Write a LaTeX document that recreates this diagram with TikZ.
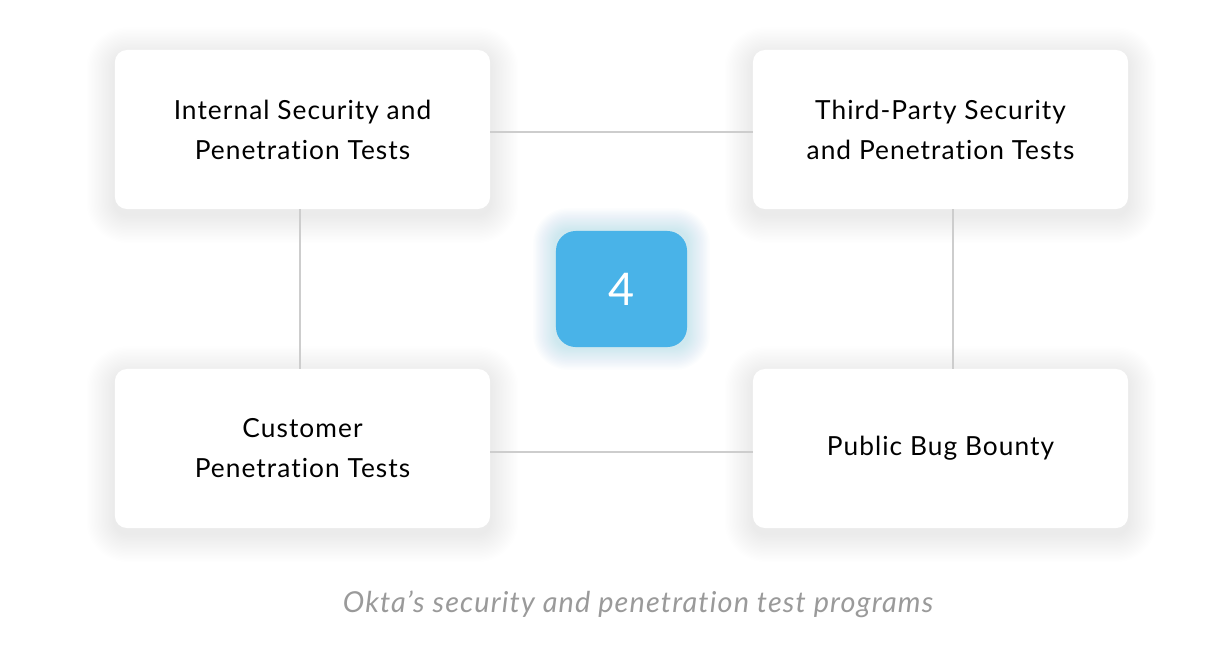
\documentclass[tikz,border=0pt]{standalone}
\usepackage{fontspec}
\setmainfont{Lato}[LetterSpace = 4, Ligatures = NoCommon]
\usetikzlibrary{positioning,backgrounds}

\definecolor{oktablue}{HTML}{49B3E8}
\definecolor{linkgray}{HTML}{CDCDCD}
\definecolor{captiongray}{HTML}{9A9A9A}

\tikzset{
  card/.style = {fill = white, rounded corners = 8.5pt, align = center,
    minimum width = 9.375cm, minimum height = 3.975cm, inner sep = 0pt,
    font = \fontsize{18.7}{28.4}\selectfont},
  counter/.style = {fill = oktablue, text = white, rounded corners = 14pt,
    minimum width = 3.275cm, minimum height = 2.9cm, inner sep = 0pt,
    font = \fontsize{32}{32}\selectfont},
  link/.style = {draw = linkgray, line width = 1.5pt},
}

% soft shadow behind a node: node, colour, steps, opacity, drop
\newcommand\softshadow[5]{%
  \foreach \s in {1,...,#3}
    \fill[#2, opacity = #4, rounded corners = 9pt + \s pt]
    ([xshift = -\s pt, yshift = -\s pt - #5]#1.south west) rectangle
    ([xshift = \s pt, yshift = \s pt - #5]#1.north east);
}

\begin{document}
\begin{tikzpicture}[x = 0.025cm, y = -0.025cm]
  \useasboundingbox (0, 0) rectangle (1223, 653);
  % the four programs
  \node[card] (internal) at (302.5, 129.5)
  {Internal Security and\\Penetration Tests};
  \node[card] (thirdparty) at (940.5, 129.5)
  {Third-Party Security\\and Penetration Tests};
  \node[card] (customer) at (302.5, 448.5)
  {Customer\\Penetration Tests};
  \node[card] (bounty) at (940.5, 448.5) {Public Bug Bounty};
  % count in the middle
  \node[counter] (count) at (621.5, 289) {4};
  % white page and shadows
  \begin{scope}[on background layer]
    \fill[white] (0, 0) rectangle (1223, 653);
    \softshadow{internal}{black}{20}{0.0045}{4pt}
    \softshadow{thirdparty}{black}{20}{0.0045}{4pt}
    \softshadow{customer}{black}{20}{0.0045}{4pt}
    \softshadow{bounty}{black}{20}{0.0045}{4pt}
    \softshadow{count}{oktablue}{16}{0.014}{0pt}
  \end{scope}
  % links between the cards
  \draw[link] (internal.east |- 0, 132) -- (thirdparty.west |- 0, 132);
  \draw[link] (customer.east |- 0, 452) -- (bounty.west |- 0, 452);
  \draw[link] (internal.south -| 300, 0) -- (customer.north -| 300, 0);
  \draw[link] (thirdparty.south -| 953, 0) -- (bounty.north -| 953, 0);
  % caption
  \node[text = captiongray, font = \fontsize{20.5}{20.5}\selectfont\itshape]
  (caption) at (638, 604) {Okta’s security and penetration test programs};
\end{tikzpicture}
\end{document}
